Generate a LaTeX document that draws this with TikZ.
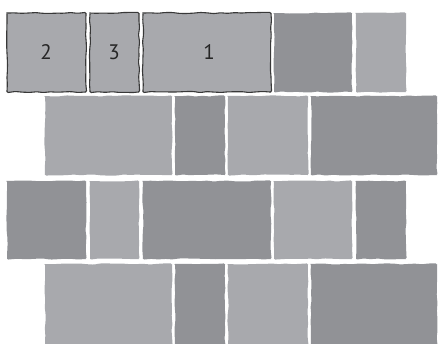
\documentclass[tikz,border=0pt]{standalone}
\usepackage{fontspec}
\setmainfont{PT Sans}
\usetikzlibrary{decorations.pathmorphing}
\definecolor{tilelight}{RGB}{168,169,173}
\definecolor{tiledark}{RGB}{145,146,150}

\begin{document}
\begin{tikzpicture}[x=1pt,y=-1pt,font=\fontsize{21}{21}\selectfont,
  tile/.style={decorate,decoration={random steps,segment length=7pt,amplitude=0.6pt},rounded corners=1.2pt},
  lite/.style={tile,fill=tilelight},
  dark/.style={tile,fill=tiledark},
  marked/.style={lite,draw=black!78,line width=1.1pt}]
  \pgfmathsetseed{11}
  \useasboundingbox (0,0) rectangle (439,343);
  \clip (0,0) rectangle (439,343);
  % row 1: the three numbered tiles, then two plain ones
  \foreach \xa/\xb/\s in {7/86/marked,90/139/marked,143/271/marked,274/352/dark,356/406/lite}
    {\path[\s] (\xa,13) rectangle (\xb,92);}
  \node[text=black!85] (two) at (46,52) {2};
  \node[text=black!85] (three) at (114,52) {3};
  \node[text=black!85] (one) at (209,52) {1};
  % row 2
  \foreach \xa/\xb/\s in {45/172/lite,175/225/dark,228/308/lite,311/437/dark}
    {\path[\s] (\xa,96) rectangle (\xb,175);}
  % row 3
  \foreach \xa/\xb/\s in {7/86/dark,90/139/lite,143/271/dark,274/352/lite,356/406/dark}
    {\path[\s] (\xa,181) rectangle (\xb,259);}
  % row 4
  \foreach \xa/\xb/\s in {45/172/lite,175/225/dark,228/308/lite,311/437/dark}
    {\path[\s] (\xa,264) rectangle (\xb,346);}
\end{tikzpicture}
\end{document}
